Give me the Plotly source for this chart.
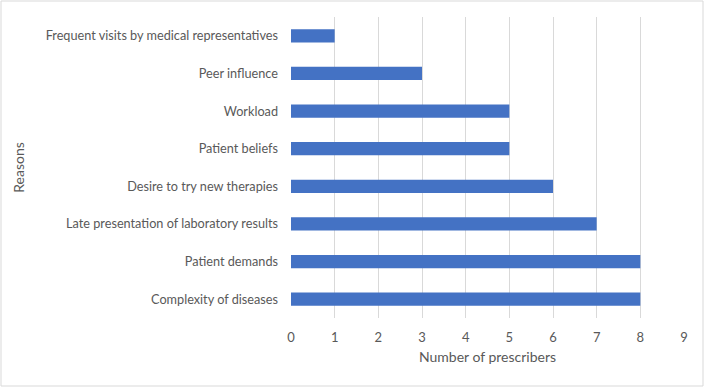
import plotly.graph_objects as go

reasons = [
    "Complexity of diseases",
    "Patient demands",
    "Late presentation of laboratory results",
    "Desire to try new therapies",
    "Patient beliefs",
    "Workload",
    "Peer influence",
    "Frequent visits by medical representatives",
]
prescribers = [8, 8, 7, 6, 5, 5, 3, 1]
x_ticks = list(range(0, 10))

W, H = 705, 388
L, R, T, B = 291, 21, 17, 70
pw, ph = W - L - R, H - T - B

fig = go.Figure(
    go.Bar(
        x=prescribers,
        y=reasons,
        orientation="h",
        marker=dict(color="#4472C4", line=dict(width=0)),
        width=0.35,
    )
)

font_family = "Lato, 'Open Sans', sans-serif"
fig.update_layout(
    width=W,
    height=H,
    margin=dict(l=L, r=R, t=T, b=B),
    paper_bgcolor="white",
    plot_bgcolor="white",
    showlegend=False,
    font=dict(family=font_family, color="#595959", size=13),
    xaxis=dict(
        range=[0, 9],
        tickvals=x_ticks,
        showgrid=True,
        gridcolor="#D9D9D9",
        gridwidth=1,
        zeroline=False,
        showline=False,
        ticks="",
        ticklabelstandoff=10,
        tickfont=dict(size=13, color="#595959"),
        title=dict(text="Number of prescribers", font=dict(size=14, color="#595959"), standoff=8),
    ),
    yaxis=dict(
        categoryorder="array",
        categoryarray=reasons,
        showgrid=False,
        zeroline=False,
        showline=False,
        ticks="",
        ticklabelstandoff=12,
        tickfont=dict(size=12.7, color="#595959"),
        title=dict(text="Reasons", font=dict(size=14, color="#595959"), standoff=17),
    ),
    shapes=[
        dict(
            type="rect",
            xref="paper",
            yref="paper",
            x0=(1 - L) / pw,
            x1=(W - 2 - L) / pw,
            y0=-(H - 2 - (T + ph)) / ph,
            y1=(T + ph - 1) / ph,
            line=dict(color="#D9D9D9", width=1),
            fillcolor="rgba(0,0,0,0)",
            layer="below",
        )
    ],
)

fig.write_html("out.html")
